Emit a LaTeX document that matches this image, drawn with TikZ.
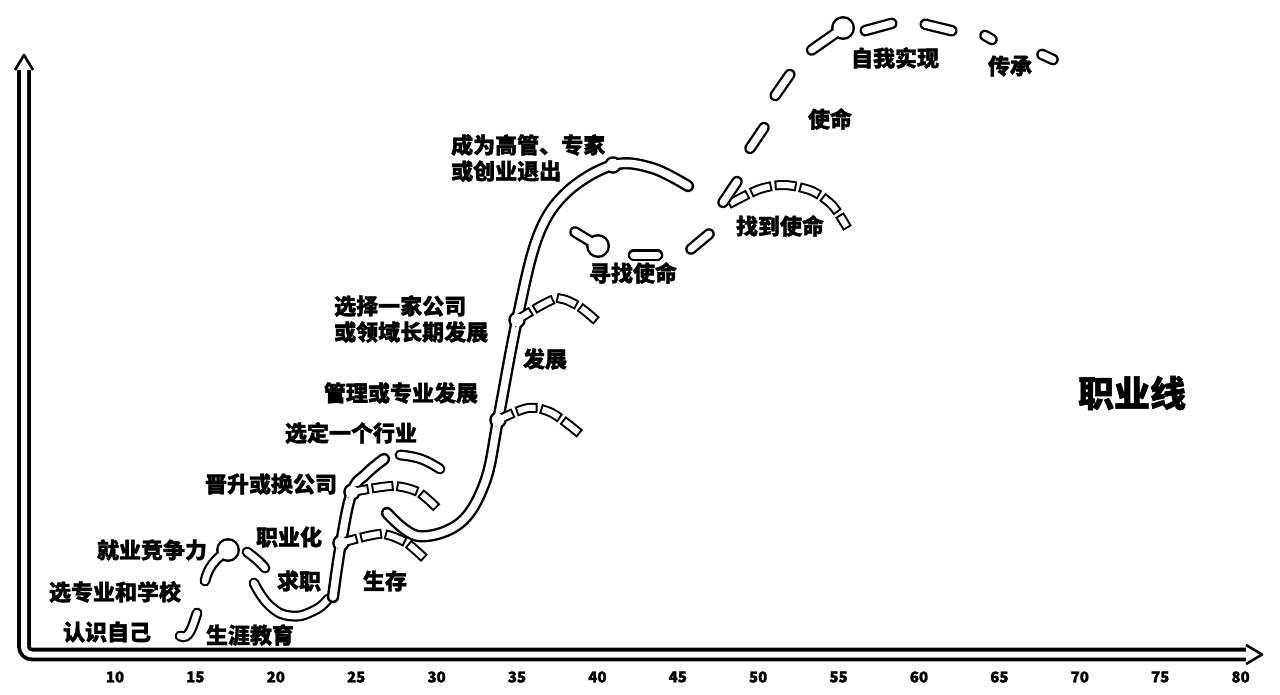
\documentclass[tikz,border=0pt]{standalone}
\usepackage{fontspec}
\newfontfamily\cjk{Noto Sans CJK SC}[BoldFeatures={FakeBold=1.5}]
\usetikzlibrary{arrows.meta}

\tikzset{
  axis/.style={draw=black, line width=3.8pt, double=white, double distance=6pt},
  trunk/.style={draw=black, line width=2.4pt, double=white, double distance=7.5pt, line cap=round},
  stroke/.style={trunk, line width=2.2pt, double distance=6.5pt},
  branch/.style={stroke, line width=2pt, double distance=6pt, line cap=rect, dash pattern=on 12pt off 13pt},
  mission/.style={stroke, line width=2.3pt, double distance=7pt},
  label/.style={font=\cjk\bfseries\fontsize{22}{26}\selectfont, inner sep=1pt, align=left},
  age/.style={font=\cjk\bfseries\fontsize{15}{16}\selectfont, inner sep=1pt},
}

\begin{document}
\begin{tikzpicture}[x=1pt,y=-1pt]
    \useasboundingbox (0,0) rectangle (1280,694);

    % Axes
    \draw[axis, rounded corners=8pt] (24,66) -- (24,654.5) -- (1250,654.5);
    \draw[line width=2.6pt, fill=white, line join=round] (15,70) -- (24,55) -- (33,70);
    \draw[line width=2.6pt, fill=white, line join=round] (1246,645) -- (1262,654.5) -- (1246,664);
    \foreach \a in {10,15,...,80}
        \node[age] (t\a) at ({115+16.08*(\a-10)},677) {\a};

    % Milestones
    \coordinate (jzl) at (228,550);
    \coordinate (n1) at (341,543);
    \coordinate (n2) at (352,492);
    \coordinate (n3) at (498,420);
    \coordinate (n4) at (517,320);
    \coordinate (n5) at (613,165);
    \coordinate (xzm) at (598,246);
    \coordinate (zwsx) at (843,28);

    % Bumps (outline)
    \foreach \n in {n1,n2,n3,n4,n5}
        \fill (\n) circle (8.8);
    \foreach \n in {jzl,xzm,zwsx}
        \fill (\n) circle (12);

    % Early strokes
    \draw[stroke] (197,613) .. controls (192,628) and (189,640) .. (180,636);
    \draw[stroke] (205,581) .. controls (208,568) and (214,560) .. (jzl);
    \draw[stroke] (247,552) .. controls (254,557) and (260,562) .. (265,568);
    \draw[stroke] plot[smooth, tension=0.8] coordinates {(254,583) (270,606) (292,616) (315,610) (328,599)};

    % Trunks
    \draw[trunk] plot[smooth, tension=0.7] coordinates {(333,597) (n1) (n2) (366,474) (384,459)};
    \draw[stroke] plot[smooth, tension=0.8] coordinates {(400,455) (421,459) (440,469)};
    \draw[trunk] plot[smooth, tension=0.6] coordinates
        {(387,513) (418,536) (460,523) (485,482) (n3) (n4) (538,236) (567,192) (n5) (652,168) (688,186)};

    % Branches
    \draw[branch] plot[smooth] coordinates {(n1) (380,534) (405,542) (423,557)};
    \draw[branch] plot[smooth] coordinates {(n2) (392,486) (418,492) (437,508)};
    \draw[branch] plot[smooth] coordinates {(n3) (528,408) (552,413) (579,433)};
    \draw[branch] plot[smooth] coordinates {(n4) (555,299) (578,306) (600,324)};
    \draw[branch] plot[smooth] coordinates {(733,202) (760,189) (785,185) (812,191) (832,205) (845,224)};

    % Mission
    \draw[mission] (575,232) -- (xzm);
    \foreach \p/\q in {{633.5,255}/{657.5,255}, {691,249}/{709,234}, {723,202.4}/{737,181.6},
                       {750,148.4}/{764,127.6}, {775.2,95.5}/{789.8,74.5}, {811.6,50}/{zwsx},
                       {865.3,30.6}/{891.7,23.4}, {925.3,24.3}/{951.7,30.7}, {985,35.5}/{992,39.5},
                       {1042,54.5}/{1053,59.5}}
        \draw[mission] (\p) -- (\q);

    % Bumps (fill)
    \foreach \n in {n1,n2,n3,n4,n5}
        \fill[white] (\n) circle (6.3);
    \foreach \n in {jzl,xzm,zwsx}
        \fill[white] (\n) circle (9.5);

    % Labels
    \node[label] (rszj) at (107,632) {认识自己};
    \node[label] (syjy) at (250,635) {生涯教育};
    \node[label] (xzy) at (115,592) {选专业和学校};
    \node[label] (jy) at (152,550) {就业竞争力};
    \node[label] (zyh) at (289,537) {职业化};
    \node[label] (qz) at (299,581) {求职};
    \node[label] (sc) at (385,581) {生存};
    \node[label] (js) at (271,484) {晋升或换公司};
    \node[label] (xd) at (351,433) {选定一个行业};
    \node[label] (gl) at (401,393) {管理或专业发展};
    \node[label, anchor=west] (xz) at (333,319) {选择一家公司\\或领域长期发展};
    \node[label] (fz) at (545,359) {发展};
    \node[label, anchor=west] (cw) at (450,158) {成为高管、专家\\或创业退出};
    \node[label] (xzsm) at (633,273) {寻找使命};
    \node[label] (zdsm) at (780,226) {找到使命};
    \node[label] (sm) at (830,119) {使命};
    \node[label] (zwsxl) at (895,58) {自我实现};
    \node[label] (cc) at (1010,66) {传承};
    \node[label, font=\cjk\bfseries\fontsize{36}{40}\selectfont] (zyx) at (1132,393) {职业线};
\end{tikzpicture}
\end{document}
